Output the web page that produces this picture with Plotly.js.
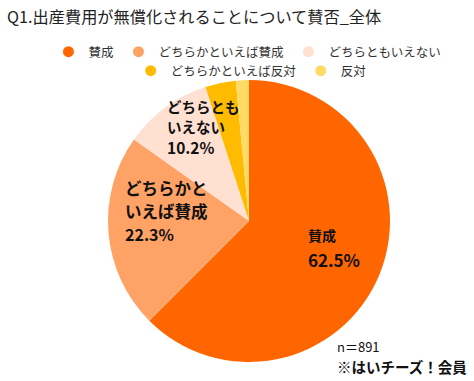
<!DOCTYPE html>
<html><head><meta charset="utf-8">
<script src="https://cdn.plot.ly/plotly-3.0.1.min.js"></script>
<style>html,body{margin:0;padding:0;background:#fff}</style>
</head><body><div id="chart" style="width:474px;height:381px"></div>
<script>
const categories = ["賛成","どちらかといえば賛成","どちらともいえない","どちらかといえば反対","反対"];
const sliceLabelLines = [["賛成"],["どちらかと","いえば賛成"],["どちらとも","いえない"],[],[]];
const values = [62.5,22.3,10.2,3.5,1.5];
const colors = ["#FF6600","#FFA266","#FFE0D1","#FFBB00","#FFDA66"];
const FONT = "Noto Sans CJK JP, sans-serif";

const W = 474, H = 381;
const traces = [{
  type:"pie", values:values, labels:categories,
  textinfo:"none", sort:false, direction:"clockwise", rotation:0, showlegend:false,
  marker:{colors:colors, line:{width:0}},
  hoverinfo:"none",
  domain:{x:[(249-141)/W,(249+141)/W], y:[1-362/H,1-80/H]}
}];
categories.forEach((c,i)=>{
  traces.push({type:"scatter", x:[null], y:[null], mode:"markers", name:c,
    legend: i < 3 ? "legend" : "legend2",
    marker:{symbol:"circle", size:11, color:colors[i]}, showlegend:true, hoverinfo:"none"});
});

// slice label placement (layout only); the texts come from the data arrays
const labelPos = [
  {x:307, lineY:[235,259], size:[14,17]},
  {x:124, lineY:[188,211,234], size:[16.5,16.5,16]},
  {x:166, lineY:[106,126,147], size:[14.5,14.5,15.5]}
];
const annotations = [];
labelPos.forEach((p,i)=>{
  const lines = sliceLabelLines[i].concat([values[i].toFixed(1)+"%"]);
  lines.forEach((t,k)=>{
    annotations.push({
      text:t, xref:"paper", yref:"paper", x:p.x/W, y:1-p.lineY[k]/H,
      xanchor:"left", yanchor:"middle", align:"left", showarrow:false, borderpad:0,
      font:{family:FONT, size:p.size[k], color:"#111", weight:"bold"}
    });
  });
});
annotations.push({text:"n＝891", xref:"paper", yref:"paper", x:336/W, y:1-346/H,
  xanchor:"left", yanchor:"middle", align:"left", showarrow:false, borderpad:0,
  font:{family:FONT, size:13, color:"#111"}});
annotations.push({text:"※はいチーズ！会員", xref:"paper", yref:"paper", x:336/W, y:1-366/H,
  xanchor:"left", yanchor:"middle", align:"left", showarrow:false, borderpad:0,
  font:{family:FONT, size:14.5, color:"#111", weight:"bold"}});

const legendCommon = {orientation:"h", xanchor:"center", yanchor:"top",
  font:{family:FONT, size:12.5, color:"#333"}, itemwidth:30, bgcolor:"rgba(0,0,0,0)"};
const layout = {
  width:W, height:H, margin:{l:0,r:0,t:0,b:0},
  paper_bgcolor:"#fff", plot_bgcolor:"rgba(0,0,0,0)",
  xaxis:{visible:false}, yaxis:{visible:false},
  title:{text:"Q1.出産費用が無償化されることについて賛否_全体", x:0.015, xanchor:"left", y:0.955, yanchor:"middle",
    font:{family:FONT, size:16.2, color:"#222"}},
  legend:Object.assign({x:0.522, y:1-37/H}, legendCommon),
  legend2:Object.assign({x:0.53, y:1-56/H}, legendCommon),
  annotations:annotations
};
Plotly.newPlot("chart", traces, layout, {displayModeBar:false, staticPlot:true});
</script></body></html>
